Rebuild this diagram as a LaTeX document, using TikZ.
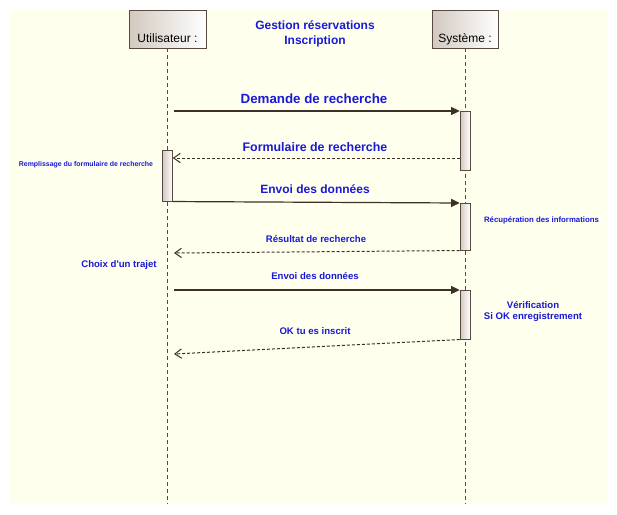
\documentclass[tikz,border=0pt]{standalone}
\usepackage{fontspec}
\setmainfont{Liberation Sans}
\usetikzlibrary{arrows.meta}
\definecolor{paper}{RGB}{255,255,238}
\definecolor{edge}{RGB}{88,74,66}
\definecolor{shade}{RGB}{210,201,192}
\definecolor{msgblue}{RGB}{25,25,215}
\definecolor{wire}{RGB}{60,48,40}
\begin{document}
\begin{tikzpicture}[x=0.75pt,y=-0.75pt,
  actor/.style={draw=edge,left color=shade,right color=white,inner sep=0pt,
    text height=24.2pt,text depth=4.3pt,font=\fontsize{9}{10}\selectfont},
  act/.style={draw=edge,left color=shade,right color=white,minimum width=7.5pt,
    inner sep=0pt,anchor=north},
  lifeline/.style={draw=edge,dash pattern=on 3pt off 2.25pt},
  call/.style={wire,line width=0.9pt,-{Triangle[length=6.5pt,width=6pt]}},
  reply/.style={wire,line width=0.75pt,dash pattern=on 2.25pt off 1.5pt,
    -{Straight Barb[length=5pt,width=7pt]}},
  msg/.style={text=msgblue,inner sep=0pt,font=\bfseries\fontsize{#1}{#1}\selectfont}]
  \useasboundingbox (0,0) rectangle (617,514);
  \fill[paper] (9.5,10) rectangle (607.5,504);

  \node[actor,minimum width=57.75pt] (user) at (167.5,29) {Utilisateur :};
  \node[actor,minimum width=49.5pt] (sys) at (465,29) {Système :};
  \node[text=msgblue,inner sep=0pt,align=center,
    font=\bfseries\fontsize{9}{11.25}\selectfont] (title) at (315,34)
    {Gestion réservations\\Inscription};

  \coordinate (bottom) at (0,504);
  \draw[lifeline] (user.south) -- (user.south |- bottom);
  \draw[lifeline] (sys.south) -- (sys.south |- bottom);

  \node[act,minimum height=44.25pt] (a1) at (465,111) {};
  \node[act,minimum height=38.25pt] (a2) at (167.5,150) {};
  \node[act,minimum height=35.25pt] (a3) at (465,203) {};
  \node[act,minimum height=36.75pt] (a4) at (465,290) {};

  \coordinate (m1) at (174,111);
  \coordinate (r1) at (0,158);
  \coordinate (r2) at (174,253);
  \coordinate (m3) at (174,290);
  \coordinate (r3) at (174,354);
  \draw[call] (m1) -- (a1.north west);
  \draw[reply] (a1.west |- r1) -- (a2.east |- r1);
  \draw[call] (a2.south east) -- (a3.north west);
  \draw[reply] (a3.south west) -- (r2);
  \draw[call] (m3) -- (a4.north west);
  \draw[reply] (a4.south west) -- (r3);

  \node[msg=10] (l1) at (314,99) {Demande de recherche};
  \node[msg=9.3] (l2) at (315,147) {Formulaire de recherche};
  \node[msg=9] (l3) at (315,189) {Envoi des données};
  \node[msg=7.2] (l4) at (316,239) {Résultat de recherche};
  \node[msg=7.2] (l5) at (315,276) {Envoi des données};
  \node[msg=7.2] (l6) at (315,331) {OK tu es inscrit};
  \node[msg=5.2] (n1) at (86,165) {Remplissage du formulaire de recherche};
  \node[msg=5.85] (n2) at (541.5,220) {Récupération des informations};
  \node[msg=7.2] (n3) at (119,265) {Choix d\textquotesingle un trajet};
  \node[text=msgblue,inner sep=0pt,align=center,
    font=\bfseries\fontsize{7.2}{8.25}\selectfont] (n4) at (533,311.5)
    {Vérification\\Si OK enregistrement};
\end{tikzpicture}
\end{document}
